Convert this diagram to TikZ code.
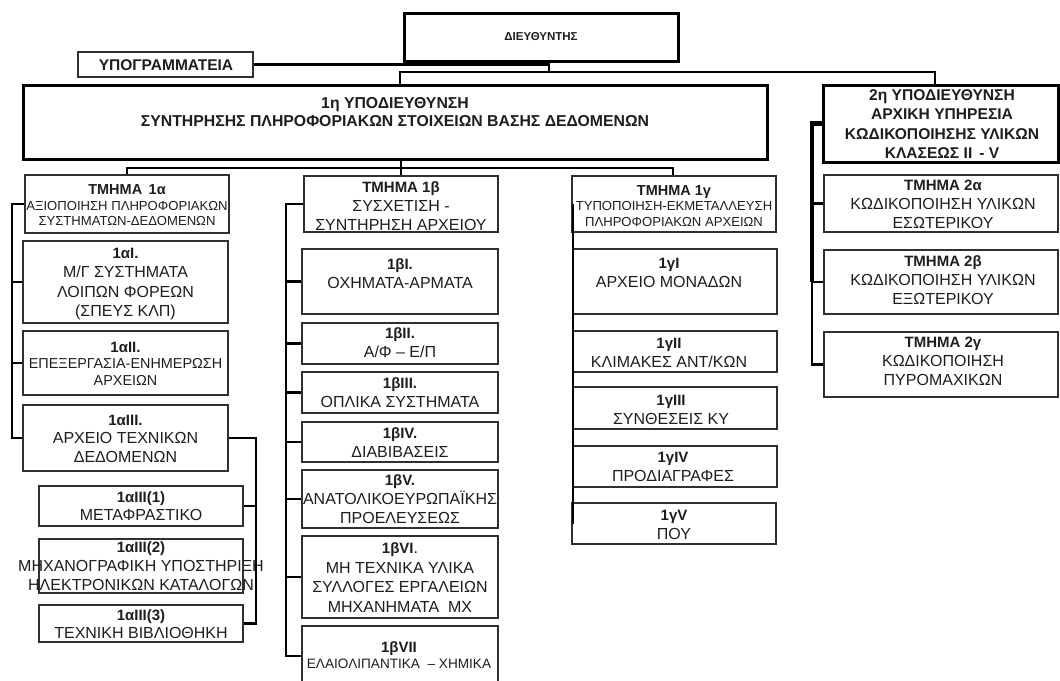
\documentclass[tikz,border=0pt]{standalone}
\usepackage{fontspec}
\setmainfont{Liberation Sans}
\definecolor{bd}{HTML}{303030}
\definecolor{txt}{HTML}{1E1E1E}
\newcommand\mkbox[6]{\node[#6,minimum width={(#4)-(#2)},minimum height={(#5)-(#3)}] (#1) at ({((#2)+(#4))/2},{((#3)+(#5))/2}) {};}
\newcommand\hd[1]{{\bfseries\fontsize{15}{19}\selectfont #1}}
\begin{document}
\begin{tikzpicture}[x=1pt,y=-1pt,
  bx/.style={draw=bd,line width=1.1pt,inner sep=0pt},
  bxk/.style={draw=black,line width=3pt,inner sep=0pt},
  tx/.style={inner sep=0pt,align=center,text=txt,font=\fontsize{16}{19}\selectfont},
  txs/.style={tx,font=\fontsize{13.1}{15.5}\selectfont},
  ln/.style={draw=black,line width=2.2pt}]
\fill[white] (0,0) rectangle (1060,680);
\useasboundingbox (0,0) rectangle (1060,680);

% ---- top level
\mkbox{dir}{404}{13}{678}{61}{bxk}
\node[tx,font=\bfseries\fontsize{11.5}{13}\selectfont] (dirT) at (541,37) {ΔΙΕΥΘΥΝΤΗΣ};
\mkbox{ypo}{78}{52}{253}{77}{bx}
\node[tx,font=\bfseries\fontsize{15.5}{17}\selectfont] (ypoT) at (166,65) {ΥΠΟΓΡΑΜΜΑΤΕΙΑ};
\mkbox{sub1}{23}{85}{767}{159}{bxk}
\node[tx,font=\bfseries\fontsize{15.8}{17.5}\selectfont] (sub1T) at (395,112) {1η ΥΠΟΔΙΕΥΘΥΝΣΗ\\ΣΥΝΤΗΡΗΣΗΣ ΠΛΗΡΟΦΟΡΙΑΚΩΝ ΣΤΟΙΧΕΙΩΝ ΒΑΣΗΣ ΔΕΔΟΜΕΝΩΝ};
\mkbox{sub2}{823}{85}{1058}{162}{bxk}
\node[tx,font=\bfseries\fontsize{15.6}{19.3}\selectfont] (sub2T) at (942,124) {2η ΥΠΟΔΙΕΥΘΥΝΣΗ\\ΑΡΧΙΚΗ ΥΠΗΡΕΣΙΑ\\ΚΩΔΙΚΟΠΟΙΗΣΗΣ ΥΛΙΚΩΝ\\ΚΛΑΣΕΩΣ II\ \,- V};

% ---- column 1a
\mkbox{a0}{25}{175}{229}{233}{bx}
\node[txs] (a0T) at (127,205.5) {{\bfseries\fontsize{14.5}{16}\selectfont ΤΜΗΜΑ\ \,1α}\\ΑΞΙΟΠΟΙΗΣΗ ΠΛΗΡΟΦΟΡΙΑΚΩΝ\\ΣΥΣΤΗΜΑΤΩΝ-ΔΕΔΟΜΕΝΩΝ};
\mkbox{a1}{23}{241}{228}{323}{bx}
\node[tx,font=\fontsize{16}{19.3}\selectfont] (a1T) at (125.5,284) {\hd{1αI.}\\Μ/Γ ΣΥΣΤΗΜΑΤΑ\\ΛΟΙΠΩΝ ΦΟΡΕΩΝ\\(ΣΠΕΥΣ ΚΛΠ)};
\mkbox{a2}{23}{331}{228}{395}{bx}
\node[tx,font=\fontsize{14.4}{16.5}\selectfont] (a2T) at (125.5,363.5) {\hd{1αII.}\\ΕΠΕΞΕΡΓΑΣΙΑ-ΕΝΗΜΕΡΩΣΗ\\ΑΡΧΕΙΩΝ};
\mkbox{a3}{23}{405}{228}{471}{bx}
\node[tx,font=\fontsize{16}{18.5}\selectfont] (a3T) at (125.5,438.5) {\hd{1αIII.}\\ΑΡΧΕΙΟ ΤΕΧΝΙΚΩΝ\\ΔΕΔΟΜΕΝΩΝ};
\mkbox{a31}{39}{486}{243}{526}{bx}
\node[tx,font=\fontsize{16}{18}\selectfont] (a31T) at (141,506) {\hd{1αIII(1)}\\ΜΕΤΑΦΡΑΣΤΙΚΟ};
\mkbox{a32}{39}{539}{243}{593}{bx}
\node[tx,font=\fontsize{16}{19}\selectfont] (a32T) at (141,566) {\hd{1αIII(2)}\\ΜΗΧΑΝΟΓΡΑΦΙΚΗ ΥΠΟΣΤΗΡΙΞΗ\\ΗΛΕΚΤΡΟΝΙΚΩΝ ΚΑΤΑΛΟΓΩΝ};
\mkbox{a33}{39}{605}{243}{642}{bx}
\node[tx,font=\fontsize{16}{18}\selectfont] (a33T) at (141,624) {\hd{1αIII(3)}\\ΤΕΧΝΙΚΗ ΒΙΒΛΙΟΘΗΚΗ};

% ---- column 1b
\mkbox{b0}{304}{176}{498}{232}{bx}
\node[tx] (b0T) at (401,206) {\hd{ΤΜΗΜΑ 1β}\\ΣΥΣΧΕΤΙΣΗ -\\ΣΥΝΤΗΡΗΣΗ ΑΡΧΕΙΟΥ};
\mkbox{b1}{302}{249}{498}{314}{bx}
\node[tx] (b1T) at (400,274) {\hd{1βI.}\\ΟΧΗΜΑΤΑ-ΑΡΜΑΤΑ};
\mkbox{b2}{302}{323}{498}{364}{bx}
\node[tx] (b2T) at (400,343) {\hd{1βII.}\\Α/Φ – Ε/Π};
\mkbox{b3}{302}{372}{498}{413}{bx}
\node[tx] (b3T) at (400,393) {\hd{1βIII.}\\ΟΠΛΙΚΑ ΣΥΣΤΗΜΑΤΑ};
\mkbox{b4}{302}{422}{498}{462}{bx}
\node[tx] (b4T) at (400,442.5) {\hd{1βIV.}\\ΔΙΑΒΙΒΑΣΕΙΣ};
\mkbox{b5}{302}{470}{498}{528}{bx}
\node[tx] (b5T) at (400,499) {\hd{1βV.}\\ΑΝΑΤΟΛΙΚΟΕΥΡΩΠΑΪΚΗΣ\\ΠΡΟΕΛΕΥΣΕΩΣ};
\mkbox{b6}{302}{536}{498}{618}{bx}
\node[tx,font=\fontsize{16}{19.7}\selectfont] (b6T) at (400,577.5) {\hd{1βVI}.\\ΜΗ ΤΕΧΝΙΚΑ ΥΛΙΚΑ\\ΣΥΛΛΟΓΕΣ ΕΡΓΑΛΕΙΩΝ\\ΜΗΧΑΝΗΜΑΤΑ\ \ ΜΧ};
\mkbox{b7}{302}{626}{498}{686}{bx}
\node[tx,font=\fontsize{13.6}{16.5}\selectfont] (b7T) at (399,655) {\hd{1βVII}\\ΕΛΑΙΟΛΙΠΑΝΤΙΚΑ\ \ – ΧΗΜΙΚΑ};

% ---- column 1c
\mkbox{c0}{572}{176}{776}{232}{bx}
\node[txs] (c0T) at (674,206) {{\bfseries\fontsize{14.5}{16}\selectfont ΤΜΗΜΑ 1γ}\\ΤΥΠΟΠΟΙΗΣΗ-ΕΚΜΕΤΑΛΛΕΥΣΗ\\ΠΛΗΡΟΦΟΡΙΑΚΩΝ ΑΡΧΕΙΩΝ};
\mkbox{c1}{573}{249}{777}{314}{bx}
\node[tx] (c1T) at (669,273) {\hd{1γI}\\ΑΡΧΕΙΟ ΜΟΝΑΔΩΝ};
\mkbox{c2}{573}{331}{777}{372}{bx}
\node[tx] (c2T) at (669,352.5) {\hd{1γII}\\ΚΛΙΜΑΚΕΣ ΑΝΤ/ΚΩΝ};
\mkbox{c3}{573}{387}{777}{429}{bx}
\node[tx] (c3T) at (671,410) {\hd{1γIII}\\ΣΥΝΘΕΣΕΙΣ ΚΥ};
\mkbox{c4}{573}{446}{777}{487}{bx}
\node[tx] (c4T) at (673,467) {\hd{1γIV}\\ΠΡΟΔΙΑΓΡΑΦΕΣ};
\mkbox{c5}{572}{503}{776}{544}{bx}
\node[tx] (c5T) at (674,525) {\hd{1γV}\\ΠΟΥ};

% ---- column 2
\mkbox{d1}{824}{175}{1058}{232}{bx}
\node[tx] (d1T) at (943,204) {\hd{ΤΜΗΜΑ 2α}\\ΚΩΔΙΚΟΠΟΙΗΣΗ ΥΛΙΚΩΝ\\ΕΣΩΤΕΡΙΚΟΥ};
\mkbox{d2}{824}{250}{1058}{314}{bx}
\node[tx] (d2T) at (943,280) {\hd{ΤΜΗΜΑ 2β}\\ΚΩΔΙΚΟΠΟΙΗΣΗ ΥΛΙΚΩΝ\\ΕΞΩΤΕΡΙΚΟΥ};
\mkbox{d3}{824}{332}{1058}{397}{bx}
\node[tx] (d3T) at (943,361.5) {\hd{ΤΜΗΜΑ 2γ}\\ΚΩΔΙΚΟΠΟΙΗΣΗ\\ΠΥΡΟΜΑΧΙΚΩΝ};

% ---- connectors
\coordinate (dj) at (549,72);
\draw[ln] (dj |- dir.south) -- (dj);
\draw[ln] (ypo.east) -- (ypo.east -| dj);
\coordinate (bl) at (400,72);
\coordinate (br) at (935,72);
\draw[ln] (bl |- sub1.north) -- (bl) -- (br) -- (br |- sub2.north);

\coordinate (ml) at (127,168);
\coordinate (mr) at (673,168);
\coordinate (mm) at (401,168);
\draw[ln] (ml |- a0.north) -- (ml) -- (mr) -- (mr |- c0.north);
\draw[ln] (mm |- sub1.south) -- (mm |- b0.north);

\coordinate (sa) at (12,0);
\draw[ln] (a0.west) -- (sa |- a0.west) -- (sa |- a3.west) -- (a3.west);
\foreach \n in {a1,a2} \draw[ln] (sa |- \n.west) -- (\n.west);

\coordinate (sr) at (256,0);
\draw[ln] (a3.east) -- (sr |- a3.east) -- (sr |- a33.east) -- (a33.east);
\draw[ln] (sr |- a31.east) -- (a31.east);

\coordinate (sb) at (286,0);
\draw[ln] (b0.west) -- (sb |- b0.west) -- (sb |- b7.west) -- (b7.west);
\foreach \n in {b1,b2,b3,b4,b5,b6} \draw[ln] (sb |- \n.west) -- (\n.west);

\coordinate (sc) at (573,524);
\draw[ln,line width=2.6pt] (sc |- c0.west) -- (sc);

\coordinate (sd) at (812,0);
\draw[ln,line width=4.5pt] (sub2.west) -- (sd |- sub2.west) -- (sd |- d2.west);
\draw[ln] (sd |- d2.west) -- (sd |- d3.west) -- (d3.west);
\draw[ln] (sd |- d1.west) -- (d1.west);
\draw[ln] (sd |- d2.west) -- (d2.west);
\end{tikzpicture}
\end{document}
